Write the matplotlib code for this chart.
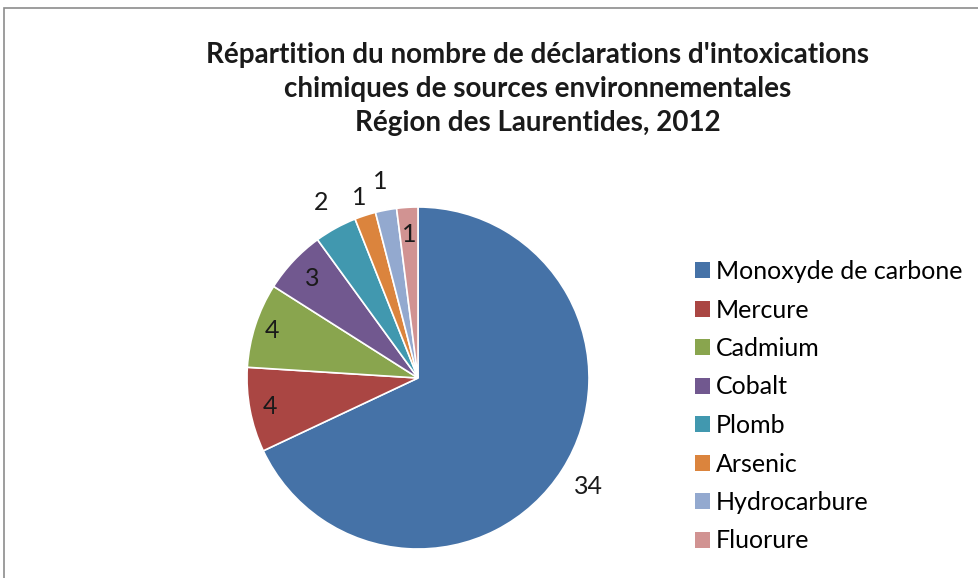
import matplotlib
matplotlib.use("Agg")
import matplotlib.pyplot as plt
from matplotlib.patches import Rectangle, Patch
import numpy as np

categories = ["Monoxyde de carbone", "Mercure", "Cadmium", "Cobalt", "Plomb",
              "Arsenic", "Hydrocarbure", "Fluorure"]
values = [34, 4, 4, 3, 2, 1, 1, 1]
colors = ["#4572A7", "#AA4643", "#89A54E", "#71588F", "#4198AF",
          "#DB843D", "#93A9CF", "#D19392"]
title = "Répartition du nombre de déclarations d'intoxications\nchimiques de sources environnementales\nRégion des Laurentides, 2012"

plt.rcParams['font.family'] = ['Lato', 'DejaVu Sans']

W, H = 979, 578
fig = plt.figure(figsize=(W / 100, H / 100), dpi=100)
fig.patch.set_facecolor("white")

# outer frame
fig.add_artist(Rectangle((4 / W, -0.1), 1.2, 1 - 8 / H + 0.1, transform=fig.transFigure,
                         fill=False, edgecolor="#8c8c8c", linewidth=1.2))

cx, cy, R = 418, 378, 171
ax = fig.add_axes([(cx - R) / W, (H - cy - R) / H, 2 * R / W, 2 * R / H])
wedges, _ = ax.pie(values, colors=colors, startangle=90, counterclock=False, radius=1,
                   wedgeprops=dict(edgecolor="white", linewidth=1.2))
ax.set_xlim(-1, 1)
ax.set_ylim(-1, 1)
ax.set_aspect("equal")
ax.axis("off")

label_r = [1.18, 0.88, 0.9, 0.85, 1.17, 1.11, 1.17, 0.84]
for w, v, r in zip(wedges, values, label_r):
    ang = np.deg2rad((w.theta1 + w.theta2) / 2)
    ax.text(r * np.cos(ang), r * np.sin(ang), str(v), ha="center", va="center",
            fontsize=18, color="#1a1a1a", clip_on=False)

fig.text(538 / W, 1 - 89 / H, title, ha="center", va="center", fontsize=20,
         fontweight="bold", linespacing=1.37, color="#1a1a1a")

handles = [Patch(facecolor=c, edgecolor="none") for c in colors]
fig.legend(handles, categories, loc="upper left", bbox_to_anchor=(695 / W, 1 - 260 / H),
           frameon=False, fontsize=18, handlelength=0.6, handleheight=0.6,
           handletextpad=0.25, labelspacing=0.62, borderpad=0, borderaxespad=0)

fig.savefig("out.png", dpi=100)
